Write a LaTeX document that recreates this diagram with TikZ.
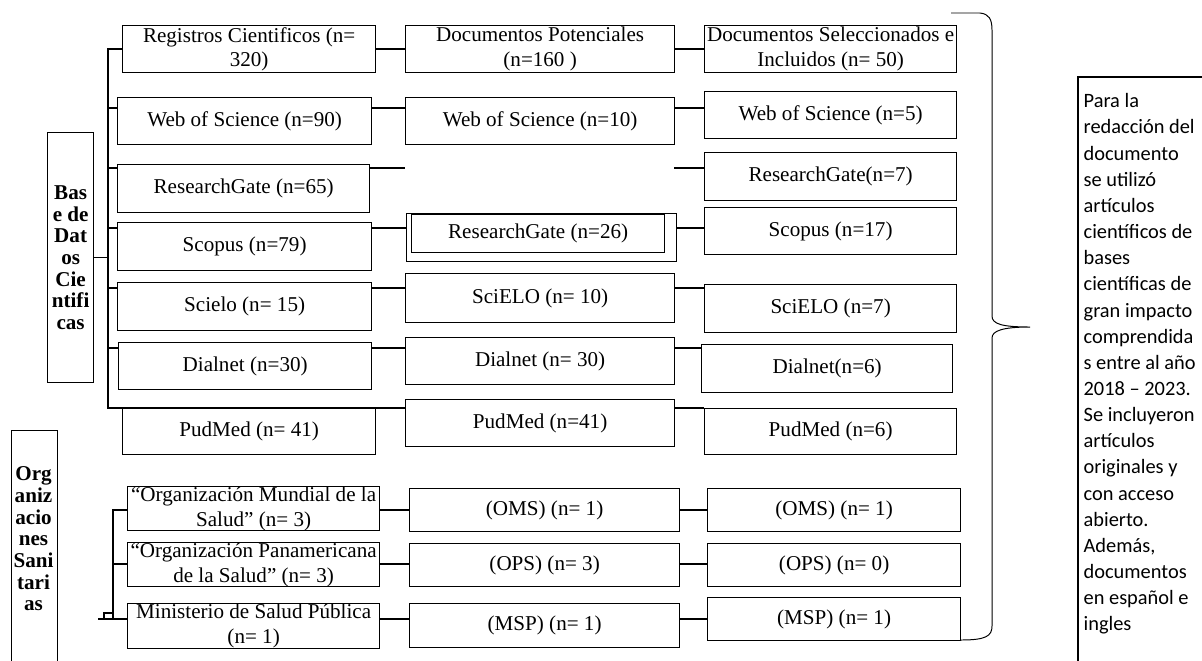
\documentclass[tikz,border=0pt]{standalone}
\usepackage{fontspec}
\setmainfont{Liberation Serif}
\newfontfamily\notefont{Carlito}
\usetikzlibrary{positioning,calc}

\begin{document}
\begin{tikzpicture}[x=0.025cm, y=-0.025cm, line width=0.9pt,
  box/.style 2 args={draw, anchor=north west, inner sep=0pt, align=center,
    minimum width=#1*0.025cm, minimum height=#2*0.025cm,
    font=\fontsize{15}{17.5}\selectfont},
  tag/.style={font=\bfseries\fontsize{15}{15.4}\selectfont, align=center, inner sep=0pt},
  note/.style={font=\notefont\fontsize{14.5}{18.6}\selectfont, align=left, inner sep=0pt, anchor=north west}]

\useasboundingbox (0,0) rectangle (1202,660);

% ===== side labels =====
\node[box={46}{250}, font=\bfseries\fontsize{15}{15.4}\selectfont] (bas) at (47,132)
  {Bas\\e de\\Dat\\os\\Cie\\ntifi\\cas};
\node[box={46}{250}] (org) at (11,430) {};
\node[tag] (orglbl) at (33.5,539) {Org\\aniz\\acio\\nes\\Sani\\tari\\as};

% ===== column 1: registros =====
\node[box={253}{47}] (reg)   at (122,25)  {Registros Cientificos (n=\\320)};
\node[box={254}{47}] (wos90) at (117,97)  {Web of Science (n=90)};
\node[box={252}{48}] (rg65)  at (117,164) {ResearchGate (n=65)};
\node[box={254}{48}] (sco79) at (117,222) {Scopus (n=79)};
\node[box={254}{48}] (sci15) at (117,282) {Scielo (n= 15)};
\node[box={253}{47}] (dia30) at (118,342) {Dialnet (n=30)};
\node[box={253}{46}] (pub41) at (122,408) {PudMed (n= 41)};
\node[box={252}{44}] (oms3)  at (127,486) {“Organización Mundial de la\\Salud” (n= 3)};
\node[box={252}{44}] (ops3)  at (127,542) {“Organización Panamericana\\de la Salud” (n= 3)};
\node[box={252}{45}] (msp1)  at (127,603) {Ministerio de Salud Pública\\(n= 1)};

% ===== column 2: potenciales =====
\node[box={269}{47}] (pot)    at (405,25)  {Documentos Potenciales\\(n=160 )};
\node[box={269}{47}] (wos10)  at (405,97)  {Web of Science (n=10)};
\node[box={270}{48}] (rg26)   at (406,213) {};
\node[box={253}{38}] (rg26in) at (411,214) {ResearchGate (n=26)};
\node[box={269}{49}] (sci10)  at (405,273) {SciELO (n= 10)};
\node[box={269}{47}] (dia30b) at (405,337) {Dialnet (n= 30)};
\node[box={269}{47}] (pub41b) at (405,399) {PudMed (n=41)};
\node[box={270}{43}] (omsM)   at (409,488) {(OMS) (n= 1)};
\node[box={270}{43}] (opsM)   at (409,543) {(OPS) (n= 3)};
\node[box={270}{44}] (mspM)   at (409,603) {(MSP) (n= 1)};

% ===== column 3: seleccionados =====
\node[box={252}{47}] (sel)   at (704,25)  {Documentos Seleccionados e\\Incluidos (n= 50)};
\node[box={252}{47}] (wos5)  at (704,91)  {Web of Science (n=5)};
\node[box={252}{48}] (rg7)   at (704,152) {ResearchGate(n=7)};
\node[box={252}{47}] (sco17) at (704,207) {Scopus (n=17)};
\node[box={252}{48}] (sci7)  at (704,284) {SciELO (n=7)};
\node[box={251}{48}] (dia6)  at (701,344) {Dialnet(n=6)};
\node[box={252}{46}] (pub6)  at (704,408) {PudMed (n=6)};
\node[box={253}{43}] (omsR)  at (707,488) {(OMS) (n= 1)};
\node[box={253}{43}] (opsR)  at (707,543) {(OPS) (n= 0)};
\node[box={253}{43}] (mspR)  at (707,597) {(MSP) (n= 1)};

% ===== connectors =====
\coordinate (trunkTop) at (108,49);
\coordinate (trunkBot) at (108,408);
\draw (reg.west |- trunkTop) -- (trunkTop) -- (trunkBot) -- (pub41b.west |- trunkBot);
\draw (bas.east) -- (bas.east -| trunkTop);
\foreach \n/\y in {wos90/108, rg65/168, sco79/228, sci15/288, dia30/348}
  \draw (trunkTop |- 0,\y) -- (\n.west |- 0,\y);

\foreach \a/\b/\c/\y in {reg/pot/sel/49, wos90/wos10/wos5/108, sco79/rg26/sco17/228,
    sci15/sci10/sci7/288, dia30/dia30b/dia6/348, oms3/omsM/omsR/510,
    ops3/opsM/opsR/564, msp1/mspM/mspR/619}
  \draw (\a.east |- 0,\y) -- (\b.west |- 0,\y) (\b.east |- 0,\y) -- (\c.west |- 0,\y);
\draw (pub41b.east |- trunkBot) -- (pub6.west |- trunkBot);

% dangling stubs on the ResearchGate row
\coordinate (gapL) at (405,168);
\coordinate (gapR) at (674,168);
\draw (rg65.east |- gapL) -- (gapL);
\draw (gapR) -- (rg7.west |- gapR);

% organizaciones branch
\coordinate (orgTrunk) at (113,510);
\coordinate (orgEnd) at (98,619);
\draw (oms3.west |- orgTrunk) -- (orgTrunk) -- (orgTrunk |- orgEnd);
\draw (ops3.west |- 0,564) -- (orgTrunk |- 0,564);
\draw (orgEnd) -- (msp1.west |- orgEnd);
\draw (104,619) -- (104,613) -- (113,613);

% ===== brace =====
\draw[line width=0.7pt] (951,13) -- (980,13) .. controls (989,14) and (992,19) .. (992,30)
  -- (992,316) .. controls (992,324) and (1002,327) .. (1030,327)
  .. controls (1002,327) and (992,331) .. (992,338)
  -- (992,626) .. controls (992,636) and (986,640) .. (961,640);

% ===== note =====
\draw (1215,77) -- (1078,77) -- (1078,675);
\node[note] (txt) at (1083,93)
  {Para la\\redacción del\\documento\\se utilizó\\artículos\\científicos de\\bases\\científicas de\\gran impacto\\comprendida\\s entre al año\\2018 – 2023.\\Se incluyeron\\artículos\\originales y\\con acceso\\abierto.\\Además,\\documentos\\en español e\\ingles};

\end{tikzpicture}
\end{document}
